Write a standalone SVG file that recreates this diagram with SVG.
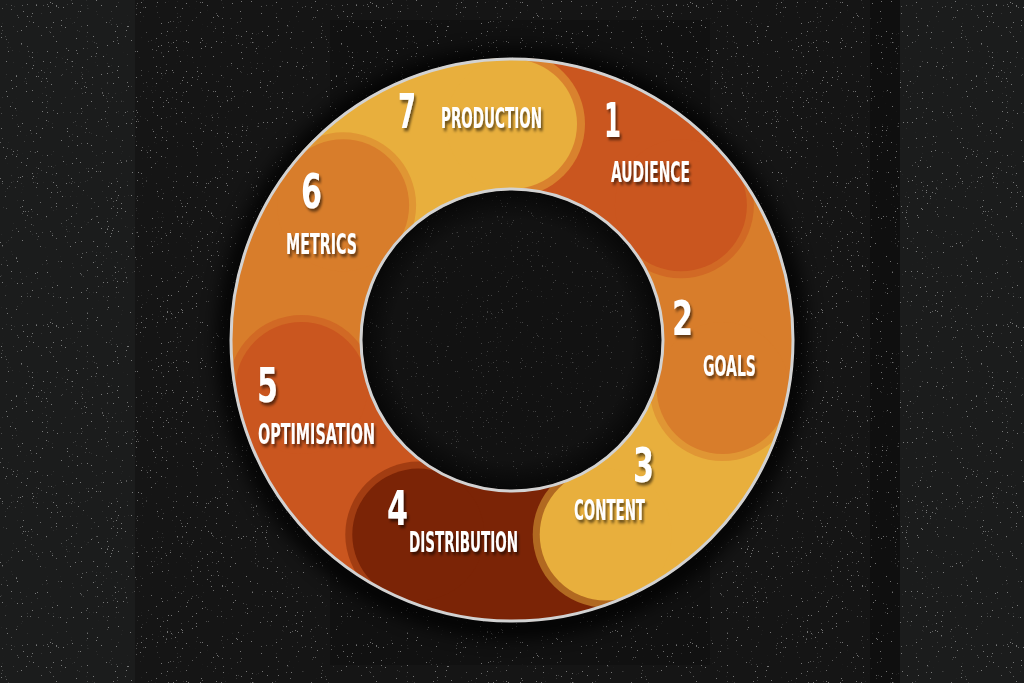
<svg xmlns="http://www.w3.org/2000/svg" width="1024" height="683" viewBox="0 0 1024 683">
  <style>
    .num { font-family: "Liberation Sans Narrow", "DejaVu Sans Condensed", "Liberation Sans", sans-serif; font-weight: 700; font-size: 48px; fill: #ffffff; filter: url(#tshadow); }
    .lbl { font-family: "Liberation Sans Narrow", "DejaVu Sans Condensed", "Liberation Sans", sans-serif; font-weight: 700; font-size: 28px; fill: #ffffff; filter: url(#tshadow); }
    .border { fill: none; stroke: #d2d2d2; stroke-width: 3; }
  </style>
  <defs>
    <filter id="tshadow" x="-20%" y="-30%" width="150%" height="170%">
      <feDropShadow dx="3" dy="3" stdDeviation="1.5" flood-color="#000" flood-opacity="0.55"/>
    </filter>
    <filter id="glow" x="-20%" y="-20%" width="140%" height="140%">
      <feGaussianBlur stdDeviation="9"/>
    </filter>
    <filter id="speck" x="0" y="0" width="100%" height="100%">
      <feTurbulence type="fractalNoise" baseFrequency="0.8" numOctaves="2" seed="7" result="n"/>
      <feColorMatrix in="n" type="matrix" values="0 0 0 0 1  0 0 0 0 1  0 0 0 0 1  20 0 0 0 -14.6"/>
    </filter>
    <radialGradient id="innerShade" cx="512" cy="340" r="150" gradientUnits="userSpaceOnUse">
      <stop offset="0.8" stop-color="#000" stop-opacity="0"/>
      <stop offset="1" stop-color="#000" stop-opacity="0.6"/>
    </radialGradient>
    <clipPath id="ring">
      <path clip-rule="evenodd" d="M230 340 A282 282 0 1 0 794 340 A282 282 0 1 0 230 340 Z M362 340 A150 150 0 1 0 662 340 A150 150 0 1 0 362 340 Z"/>
    </clipPath>
    <clipPath id="w1"><path d="M512 340 L512 40 A300 300 0 0 1 746.55 152.95 Z"/></clipPath>
    <clipPath id="w2"><path d="M512 340 L746.55 152.95 A300 300 0 0 1 804.48 406.76 Z"/></clipPath>
    <clipPath id="w3"><path d="M512 340 L804.48 406.76 A300 300 0 0 1 642.16 610.29 Z"/></clipPath>
    <clipPath id="w4"><path d="M512 340 L642.16 610.29 A300 300 0 0 1 381.84 610.29 Z"/></clipPath>
    <clipPath id="w5"><path d="M512 340 L381.84 610.29 A300 300 0 0 1 219.52 406.76 Z"/></clipPath>
    <clipPath id="w6"><path d="M512 340 L219.52 406.76 A300 300 0 0 1 277.45 152.95 Z"/></clipPath>
    <clipPath id="w7"><path d="M512 340 L277.45 152.95 A300 300 0 0 1 512 40 Z"/></clipPath>
    <mask id="m1" maskUnits="userSpaceOnUse" x="0" y="0" width="1024" height="683">
      <rect x="0" y="0" width="1024" height="683" fill="#fff"/>
      <circle cx="512" cy="124" r="65" fill="#000"/>
    </mask>
  </defs>

  <!-- background -->
  <rect x="0" y="0" width="1024" height="683" fill="#1b1c1c"/>
  <rect x="135" y="0" width="765" height="683" fill="#151515"/>
  <rect x="330" y="20" width="380" height="645" fill="#111111"/>
  <rect x="870" y="0" width="30" height="683" fill="#0f0f0f"/>
  <rect x="0" y="0" width="1024" height="683" filter="url(#speck)" opacity="0.4"/>

  <!-- ring shadow (outer and inner) -->
  <circle cx="512" cy="343" r="284" fill="none" stroke="#000" stroke-width="22" opacity="0.85" filter="url(#glow)"/>
  <circle cx="512" cy="340" r="150" fill="#141414" opacity="0.5"/>

  <g id="connectors"></g>

  <g clip-path="url(#ring)">
    <g id="node-7">
      <path d="M512 340 L277.45 152.95 A300 300 0 0 1 512 40 Z" fill="#E8AF3D"/>
      <circle cx="343.12" cy="205.33" r="73" fill="#E09634" clip-path="url(#w7)"/>
      <circle cx="512" cy="124" r="66" fill="#E8AF3D"/>
      <text class="num" transform="translate(398 128) scale(0.6 1)" x="0" y="0" textLength="30" lengthAdjust="spacingAndGlyphs">7</text>
      <text class="lbl" transform="translate(441 128) scale(0.6 1)" x="0" y="0" textLength="168.3" lengthAdjust="spacingAndGlyphs">PRODUCTION</text>
    </g>
    <g id="node-6">
      <path d="M512 340 L219.52 406.76 A300 300 0 0 1 277.45 152.95 Z" fill="#D87D2B"/>
      <circle cx="301.42" cy="388.06" r="73" fill="#D16925" clip-path="url(#w6)"/>
      <circle cx="343.12" cy="205.33" r="66" fill="#D87D2B"/>
      <text class="num" transform="translate(301 208) scale(0.6 1)" x="0" y="0" textLength="35" lengthAdjust="spacingAndGlyphs">6</text>
      <text class="lbl" transform="translate(286 254) scale(0.6 1)" x="0" y="0" textLength="118.3" lengthAdjust="spacingAndGlyphs">METRICS</text>
    </g>
    <g id="node-5">
      <path d="M512 340 L381.84 610.29 A300 300 0 0 1 219.52 406.76 Z" fill="#CA561F"/>
      <circle cx="418.28" cy="534.61" r="73" fill="#A23D12" clip-path="url(#w5)"/>
      <circle cx="301.42" cy="388.06" r="66" fill="#CA561F"/>
      <text class="num" transform="translate(257 402) scale(0.6 1)" x="0" y="0" textLength="35" lengthAdjust="spacingAndGlyphs">5</text>
      <text class="lbl" transform="translate(258 444) scale(0.6 1)" x="0" y="0" textLength="195" lengthAdjust="spacingAndGlyphs">OPTIMISATION</text>
    </g>
    <g id="node-4">
      <path d="M512 340 L642.16 610.29 A300 300 0 0 1 381.84 610.29 Z" fill="#7B2406"/>
      <circle cx="605.72" cy="534.61" r="73" fill="#B16921" clip-path="url(#w4)"/>
      <circle cx="418.28" cy="534.61" r="66" fill="#7B2406"/>
      <text class="num" transform="translate(387 525) scale(0.6 1)" x="0" y="0" textLength="35" lengthAdjust="spacingAndGlyphs">4</text>
      <text class="lbl" transform="translate(409 552) scale(0.6 1)" x="0" y="0" textLength="181.7" lengthAdjust="spacingAndGlyphs">DISTRIBUTION</text>
    </g>
    <g id="node-3">
      <path d="M512 340 L804.48 406.76 A300 300 0 0 1 642.16 610.29 Z" fill="#E8AF3D"/>
      <circle cx="722.58" cy="388.06" r="73" fill="#E09634" clip-path="url(#w3)"/>
      <circle cx="605.72" cy="534.61" r="66" fill="#E8AF3D"/>
      <text class="num" transform="translate(633 482) scale(0.6 1)" x="0" y="0" textLength="35" lengthAdjust="spacingAndGlyphs">3</text>
      <text class="lbl" transform="translate(574 520) scale(0.6 1)" x="0" y="0" textLength="118.3" lengthAdjust="spacingAndGlyphs">CONTENT</text>
    </g>
    <g id="node-2">
      <path d="M512 340 L746.55 152.95 A300 300 0 0 1 804.48 406.76 Z" fill="#D87D2B"/>
      <circle cx="680.88" cy="205.33" r="73" fill="#D16925" clip-path="url(#w2)"/>
      <circle cx="722.58" cy="388.06" r="66" fill="#D87D2B"/>
      <text class="num" transform="translate(672 335) scale(0.6 1)" x="0" y="0" textLength="35" lengthAdjust="spacingAndGlyphs">2</text>
      <text class="lbl" transform="translate(703 376) scale(0.6 1)" x="0" y="0" textLength="88.3" lengthAdjust="spacingAndGlyphs">GOALS</text>
    </g>
    <g id="node-1">
      <g mask="url(#m1)">
        <path d="M512 340 L512 40 A300 300 0 0 1 746.55 152.95 Z" fill="#CA561F"/>
        <circle cx="512" cy="124" r="73" fill="#D9822E" clip-path="url(#w1)"/>
      </g>
      <circle cx="680.88" cy="205.33" r="66" fill="#CA561F"/>
      <text class="num" transform="translate(604 137) scale(0.6 1)" x="0" y="0" textLength="28.3" lengthAdjust="spacingAndGlyphs">1</text>
      <text class="lbl" transform="translate(611 182) scale(0.6 1)" x="0" y="0" textLength="131.7" lengthAdjust="spacingAndGlyphs">AUDIENCE</text>
    </g>
  </g>

  <!-- inner shading and borders -->
  <circle cx="512" cy="340" r="150" fill="url(#innerShade)"/>
  <circle class="border" cx="512" cy="340" r="281"/>
  <circle class="border" cx="512" cy="340" r="151"/>
</svg>
